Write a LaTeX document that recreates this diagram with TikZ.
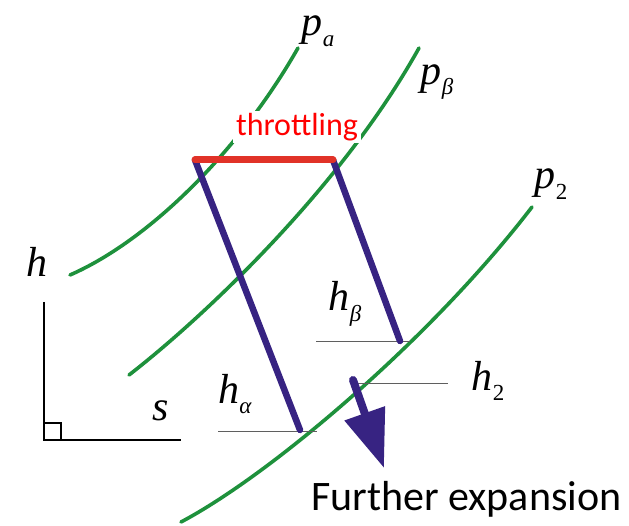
\documentclass[tikz,border=0pt]{standalone}
\usepackage{fontspec}
\usetikzlibrary{arrows.meta}
\newfontfamily\tmsfont{Liberation Serif}
\newfontfamily\calfont{Carlito}
\definecolor{isogreen}{RGB}{30,145,60}
\definecolor{procblue}{RGB}{55,35,130}
\definecolor{throtred}{RGB}{225,50,40}
\definecolor{levelgray}{RGB}{95,95,95}
\tikzset{
  isobar/.style={isogreen, line width=3.6pt, line cap=round},
  process/.style={procblue, line width=6.5pt, line cap=round},
  level/.style={levelgray, line width=1pt},
  axis/.style={black, line width=1.6pt},
  lbl/.style={inner sep=0pt, font=\tmsfont\itshape\fontsize{42}{44}\selectfont},
}
\newcommand{\sbs}[1]{\raisebox{-0.25em}{\fontsize{23}{24}\selectfont #1}}
\begin{document}
\begin{tikzpicture}[x=1pt,y=-1pt]
\path[use as bounding box] (0,0) rectangle (629,526);

% isobars
\draw[isobar] (70,275) .. controls (150,240) and (240,150) .. (298,48);
\draw[isobar] (129,375) .. controls (200,320) and (340,190) .. (419,48);
\draw[isobar] (181,522) .. controls (270,475) and (430,340) .. (532,207);

% axes
\coordinate (ytop) at (44,302);
\coordinate (orig) at (44,440);
\coordinate (xend) at (181,440);
\draw[axis] (ytop) -- (orig) -- (xend);
\draw[axis, line width=1.3pt] (44,423) -| (61,440);

% enthalpy levels
\coordinate (la1) at (218,431); \coordinate (la2) at (317,431);
\coordinate (lb1) at (316,342); \coordinate (lb2) at (410,342);
\coordinate (l21) at (358,384); \coordinate (l22) at (448,384);
\draw[level] (la1) -- (la2);
\draw[level] (lb1) -- (lb2);
\draw[level] (l21) -- (l22);

% throttling and expansion lines
\coordinate (A) at (195,160);
\coordinate (B) at (333,160);
\coordinate (Aend) at (300,430);
\coordinate (Bend) at (400,341);
\draw[process] (A) -- (Aend);
\draw[process] (B) -- (Bend);
\draw[throtred, line width=7pt, line cap=round] (A) -- (B);

% further expansion arrow
\coordinate (fs) at (353,380);
\coordinate (fe) at (384,468);
\draw[procblue, line width=8pt, line cap=round, -{Triangle[length=58pt,width=41pt]}] (fs) -- (fe);

% labels
\node[fill=white, inner xsep=3pt, inner ysep=2pt, text=red, font=\calfont\fontsize{32}{34}\selectfont] (thr) at (297,127) {throttling};
\node[anchor=base west, inner sep=0pt, font=\calfont\fontsize{42}{44}\selectfont] (fx) at (311,510) {Further expansion};

\node[lbl] (h) at (37,262) {h};
\node[lbl] (s) at (161,411) {s};
\node[lbl] (pa) at (318,31) {p\sbs{a}};
\node[lbl] (pb) at (437,82) {p\sbs{β}};
\node[lbl] (p2) at (551,184) {p\sbs{\upshape 2}};
\node[lbl] (hb) at (345,304) {h\sbs{β}};
\node[lbl] (ha) at (235,394) {h\sbs{α}};
\node[lbl] (h2) at (488,381) {h\sbs{\upshape 2}};
\end{tikzpicture}
\end{document}
